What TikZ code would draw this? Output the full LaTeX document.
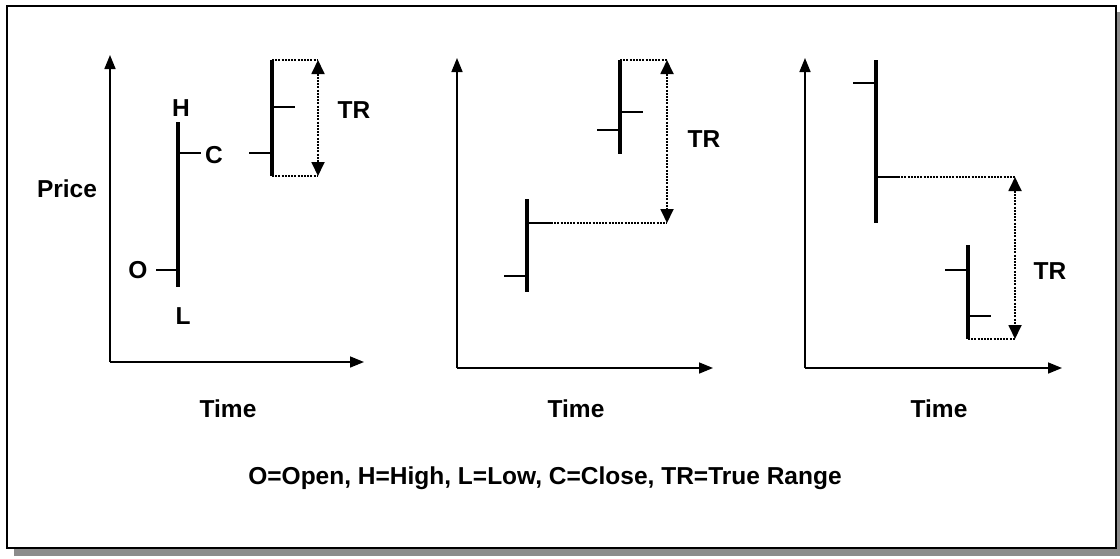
\documentclass[tikz,border=0pt]{standalone}
\usepackage{fontspec}
\setmainfont{Liberation Sans}
\usetikzlibrary{arrows.meta}
\tikzset{
  lbl/.style={font=\fontsize{24.5}{26}\selectfont\bfseries, inner sep=0pt},
  axis/.style={line width=1.6pt, -{Triangle[length=14pt,width=11pt]}},
  barline/.style={line width=4pt},
  tick/.style={line width=1.6pt},
  guide/.style={line width=1.8pt, dash pattern=on 2pt off 1.2pt},
  trarrow/.style={line width=1.8pt, dash pattern=on 2pt off 1.2pt, {Triangle[length=14pt,width=13pt]}-{Triangle[length=14pt,width=13pt]}},
}
\begin{document}
\begin{tikzpicture}[x=1pt,y=-1pt]
\useasboundingbox (0,0) rectangle (1120,558);
% frame with shadow
\fill[gray!90] (14,12) rectangle (1120,556);
\fill[white] (7,6) rectangle (1116,548);
\draw[line width=2.2pt] (7,6) rectangle (1116,548);

% ---------- Panel 1 ----------
\coordinate (o1) at (110,362);
\draw[axis] (o1) -- (110,55);
\draw[axis] (o1) -- (364,362);
\node[lbl] (price) at (67,189) {Price};
\node[lbl] (time1) at (228,409) {Time};
% bar 1
\coordinate (b1t) at (178,122); \coordinate (b1b) at (178,287);
\draw[barline] (b1t) -- (b1b);
\draw[tick] (156,270) -- (178,270);
\draw[tick] (178,153) -- (201,153);
\node[lbl] (H) at (181,108) {H};
\node[lbl] (C) at (214,155) {C};
\node[lbl] (O) at (138,270) {O};
\node[lbl] (L) at (183,316) {L};
% bar 2
\coordinate (b2t) at (272,60); \coordinate (b2b) at (272,176);
\draw[barline] (b2t) -- (b2b);
\draw[tick] (249,153) -- (272,153);
\draw[tick] (272,107) -- (295,107);
\coordinate (tr1t) at (318,60); \coordinate (tr1b) at (318,176);
\draw[guide] (b2t) -- (tr1t);
\draw[guide] (b2b) -- (tr1b);
\draw[trarrow] (tr1t) -- (tr1b);
\node[lbl] (tr1) at (354,110) {TR};

% ---------- Panel 2 ----------
\coordinate (o2) at (457,368);
\draw[axis] (o2) -- (457,58);
\draw[axis] (o2) -- (713,368);
\node[lbl] (time2) at (576,409) {Time};
% bar A
\coordinate (b3t) at (527,199); \coordinate (b3b) at (527,292);
\draw[barline] (b3t) -- (b3b);
\draw[tick] (504,276) -- (527,276);
\draw[tick] (527,223) -- (551,223);
% bar B
\coordinate (b4t) at (620,60); \coordinate (b4b) at (620,154);
\draw[barline] (b4t) -- (b4b);
\draw[tick] (597,130) -- (620,130);
\draw[tick] (620,112) -- (643,112);
\coordinate (tr2t) at (667,60); \coordinate (tr2b) at (667,223);
\draw[guide] (b4t) -- (tr2t);
\draw[guide] (551,223) -- (tr2b);
\draw[trarrow] (tr2t) -- (tr2b);
\node[lbl] (tr2) at (704,139) {TR};

% ---------- Panel 3 ----------
\coordinate (o3) at (805,368);
\draw[axis] (o3) -- (805,58);
\draw[axis] (o3) -- (1062,368);
\node[lbl] (time3) at (939,409) {Time};
% bar A
\coordinate (b5t) at (876,60); \coordinate (b5b) at (876,223);
\draw[barline] (b5t) -- (b5b);
\draw[tick] (853,83) -- (876,83);
\draw[tick] (876,177) -- (898,177);
% bar B
\coordinate (b6t) at (968,245); \coordinate (b6b) at (968,339);
\draw[barline] (b6t) -- (b6b);
\draw[tick] (945,270) -- (968,270);
\draw[tick] (968,316) -- (991,316);
\coordinate (tr3t) at (1015,177); \coordinate (tr3b) at (1015,339);
\draw[guide] (898,177) -- (tr3t);
\draw[guide] (b6b) -- (tr3b);
\draw[trarrow] (tr3t) -- (tr3b);
\node[lbl] (tr3) at (1050,271) {TR};

% legend
\node[lbl] (legend) at (545,478) {O=Open, H=High, L=Low, C=Close, TR=True Range};
\end{tikzpicture}
\end{document}
